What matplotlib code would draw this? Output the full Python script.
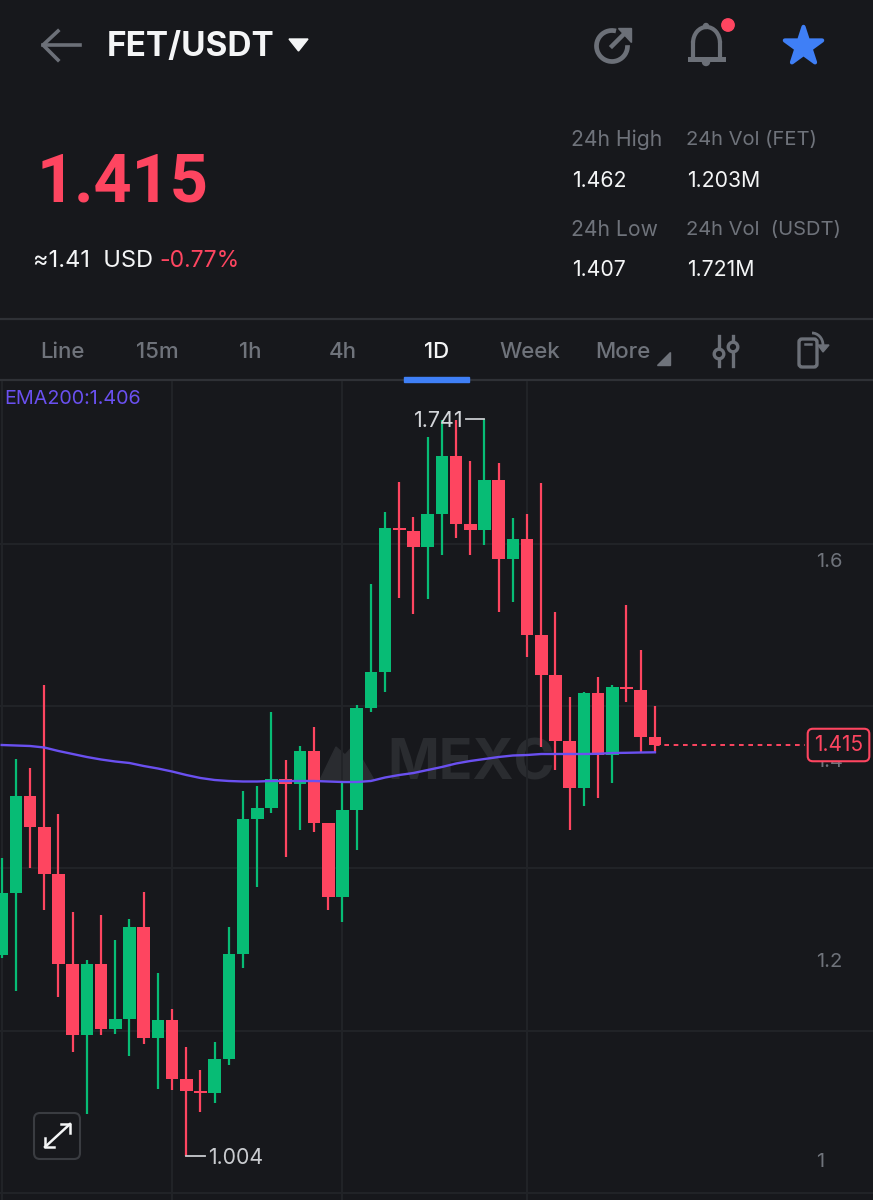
import numpy as np
import matplotlib
matplotlib.use("Agg")
import matplotlib.pyplot as plt
from matplotlib.patches import Arc, Circle, FancyBboxPatch, Polygon, Rectangle

plt.rcParams['font.family'] = ['Inter', 'DejaVu Sans']

# Daily candles
highs = [1.302, 1.401, 1.392, 1.475, 1.346, 1.248, 1.200, 1.245, 1.220, 1.241, 1.268, 1.187,
         1.151, 1.113, 1.090, 1.118, 1.233, 1.369, 1.374, 1.448, 1.400, 1.414, 1.433, 1.337,
         1.378, 1.455, 1.576, 1.648, 1.678, 1.643, 1.723, 1.740, 1.740, 1.699, 1.741, 1.697,
         1.642, 1.646, 1.677, 1.548, 1.463, 1.468, 1.483, 1.475, 1.555, 1.510, 1.454]
lows = [1.202, 1.169, 1.292, 1.250, 1.163, 1.108, 1.046, 1.125, 1.126, 1.104, 1.116, 1.071,
        1.070, 1.004, 1.048, 1.057, 1.095, 1.192, 1.273, 1.347, 1.303, 1.330, 1.328, 1.250,
        1.238, 1.310, 1.448, 1.468, 1.562, 1.546, 1.561, 1.605, 1.622, 1.605, 1.615, 1.548,
        1.558, 1.503, 1.413, 1.390, 1.330, 1.354, 1.362, 1.377, 1.458, 1.407, 1.407]
opens = [1.205, 1.267, 1.364, 1.333, 1.286, 1.196, 1.125, 1.196, 1.131, 1.141, 1.233, 1.122,
         1.140, 1.081, 1.069, 1.067, 1.101, 1.206, 1.341, 1.352, 1.381, 1.376, 1.409, 1.337,
         1.263, 1.350, 1.452, 1.488, 1.632, 1.629, 1.613, 1.646, 1.704, 1.636, 1.630, 1.680,
         1.601, 1.621, 1.525, 1.485, 1.419, 1.372, 1.467, 1.405, 1.473, 1.470, 1.423]
closes = [1.267, 1.364, 1.333, 1.286, 1.196, 1.125, 1.196, 1.131, 1.141, 1.233, 1.122, 1.140,
          1.081, 1.069, 1.067, 1.101, 1.206, 1.341, 1.352, 1.381, 1.376, 1.409, 1.337, 1.263,
          1.350, 1.452, 1.488, 1.632, 1.630, 1.613, 1.646, 1.704, 1.636, 1.630, 1.680, 1.601,
          1.621, 1.525, 1.485, 1.419, 1.372, 1.467, 1.405, 1.473, 1.471, 1.423, 1.415]
ema200 = [1.415, 1.4145, 1.414, 1.4125, 1.409, 1.406, 1.403, 1.4005, 1.3985, 1.397, 1.394, 1.3915,
          1.3885, 1.385, 1.382, 1.380, 1.379, 1.3785, 1.3785, 1.379, 1.379, 1.379, 1.379, 1.3785,
          1.378, 1.378, 1.379, 1.3825, 1.385, 1.387, 1.390, 1.393, 1.3965, 1.399, 1.401, 1.403,
          1.4045, 1.405, 1.406, 1.406, 1.406, 1.406, 1.4062, 1.407, 1.4072, 1.4075, 1.4077]

price_ticks = [1.0, 1.2, 1.4, 1.6]
grid_prices = [1.616, 1.454, 1.292, 1.129, 0.967]
grid_candles = [0, 12, 24, 37]
tab_names = ["Line", "15m", "1h", "4h", "1D", "Week", "More"]
tab_x = [62, 157, 250, 343, 437, 530, 623]

BG = "#17181c"
GRID = "#222428"
GREEN = "#07bc75"
RED = "#fe4560"
PURPLE = "#6a50f0"
GREY = "#6f737b"
ICON = "#6c7078"
WHITE = "#f4f5f6"
BLUE = "#3f7ff6"

fig = plt.figure(figsize=(8.73, 12), dpi=100, facecolor=BG)

# Page furniture lives in an axes measured in image pixels
ui = fig.add_axes([0, 0, 1, 1], zorder=0)
ui.set_xlim(0, 873)
ui.set_ylim(1200, 0)
ui.axis("off")

# Header row
ui.plot([43, 80], [45, 45], color=ICON, lw=2.6)
ui.plot([58, 43, 58], [31, 45, 60], color=ICON, lw=2.6)
ui.text(107, 47, "FET/USDT", color=WHITE, fontsize=24, fontweight="bold", va="center")
ui.add_patch(Polygon([[289, 39], [308, 39], [298.5, 51]], color=WHITE))

# Share icon
ui.add_patch(Arc((612, 46), 31, 31, theta1=-3, theta2=285, color=ICON, lw=3.4))
ui.plot([612, 624], [46, 34], color=ICON, lw=3.2)
ui.add_patch(Polygon([[618, 28], [631, 28], [631, 42]], color=ICON))

# Bell icon
ui.plot([693, 693], [58, 43], color=ICON, lw=3)
ui.plot([720, 720], [58, 43], color=ICON, lw=3)
ui.add_patch(Arc((706.5, 43), 27, 32, theta1=180, theta2=360, color=ICON, lw=3))
ui.plot([690, 723], [59, 59], color=ICON, lw=3.6)
ui.add_patch(Circle((706, 26), 2.5, color=ICON))
ui.add_patch(Circle((706, 62), 3.5, color=ICON))
ui.add_patch(Circle((728, 25), 6.2, color=RED))

star = ui.scatter([802.5], [46], marker="*", s=800, color=BLUE, edgecolors=BLUE, linewidths=3)
star.set_joinstyle("round")

# Price block
ui.text(37, 183, "1.415", color=RED, fontsize=48, fontweight="bold", va="center", family="Roboto")
ui.text(33, 261, "≈1.41  USD", color=WHITE, fontsize=17, va="center")
ui.text(159, 261, "-0.77%", color=RED, fontsize=16.5, va="center")
for x, y, s, size in [(571, 140, "24h High", 15.2), (686, 140, "24h Vol (FET)", 14.5),
                      (571, 230, "24h Low", 15.2), (686, 230, "24h Vol  (USDT)", 14.5)]:
    ui.text(x, y, s, color=GREY, fontsize=size, va="center")
for x, y, s in [(572, 181, "1.462"), (687, 181, "1.203M"),
                (572, 270, "1.407"), (687, 270, "1.721M")]:
    ui.text(x, y, s, color=WHITE, fontsize=15.3, va="center")

# Interval tabs
ui.plot([0, 873], [319, 319], color="#2f3136", lw=1.6)
ui.plot([0, 873], [380, 380], color="#2f3136", lw=1.6)
for x, name in zip(tab_x, tab_names):
    active = name == "1D"
    ui.text(x, 352, name, color=WHITE if active else GREY, fontsize=16, ha="center", va="center",
            fontweight="medium")
ui.add_patch(Rectangle((404, 377), 65, 4.5, color=BLUE, zorder=3))
ui.add_patch(Polygon([[657, 365], [670, 365], [670, 352]], color=GREY))

# Settings icon
for x, knob in [(719, 354), (733, 347)]:
    ui.plot([x, x], [336, 366], color=ICON, lw=2.4)
    ui.add_patch(Circle((x, knob), 4.8, facecolor=BG, edgecolor=ICON, lw=2.4, zorder=3))

# Rotate icon
ui.add_patch(FancyBboxPatch((799, 339), 18, 28, boxstyle="round,pad=0,rounding_size=3",
                            fill=False, edgecolor=ICON, lw=2.4))
ui.plot([805, 811], [344, 344], color=ICON, lw=1.8)
ui.add_patch(Arc((812, 345), 22, 24, theta1=270, theta2=360, color=ICON, lw=2))
ui.add_patch(Polygon([[818, 345], [829, 345], [823, 352]], color=ICON))

# Watermark sits under the candles
ui.add_patch(Polygon([[320, 780], [336, 747], [345, 755], [354, 745], [374, 780]], color="#2a2c30"))
ui.text(387, 764, "MEXC", color="#2a2c30", fontsize=40, fontweight="bold", va="center")

# Chart, scaled so the candles land where the picture has them
ax = fig.add_axes([0, 0, 1, 819 / 1200], zorder=1)
ax.patch.set_alpha(0)
ax.set_xlim(-0.118, 61.36)
ax.set_ylim(0.960, 1.779)
for spine in ax.spines.values():
    spine.set_visible(False)
ax.set_xticks([])
ax.yaxis.tick_right()
ax.set_yticks(price_ticks)
ax.set_yticklabels(["1", "1.2", "1.4", "1.6"])
ax.tick_params(axis="y", length=0, pad=-41, labelsize=14.5, labelcolor=GREY)

for y in grid_prices:
    ax.axhline(y, color=GRID, lw=1.4, zorder=0)
for x in grid_candles:
    ax.axvline(x, color=GRID, lw=1.4, zorder=0)

xs = np.arange(len(closes))
colors = [GREEN if c >= o else RED for o, c in zip(opens, closes)]
bottoms = [min(o, c) for o, c in zip(opens, closes)]
heights = [abs(c - o) for o, c in zip(opens, closes)]
ax.vlines(xs, lows, highs, colors=colors, lw=1.6, zorder=2)
ax.bar(xs, heights, width=0.88, bottom=bottoms, color=colors, zorder=3)
ax.plot(xs, ema200, color=PURPLE, lw=1.7, zorder=4)
ui.text(4, 399, "EMA200:1.406", color=PURPLE, fontsize=14.2, va="center", zorder=5)

# Extremes
low_i = int(np.argmin(lows))
high_i = int(np.argmax(highs))
ax.plot([low_i, low_i + 1.3], [lows[low_i]] * 2, color="#c9cbcf", lw=1.3, zorder=4)
ax.text(low_i + 1.5, lows[low_i], "1.004", color="#c9cbcf", fontsize=15.3, va="center_baseline")
ax.plot([high_i - 1.3, high_i], [highs[high_i]] * 2, color="#c9cbcf", lw=1.3, zorder=4)
ax.text(high_i - 1.5, highs[high_i], "1.741", color="#d4d6da", fontsize=15.5, va="center_baseline",
        ha="right", zorder=5)

# Last price tag
ax.plot([xs[-1], 56.6], [closes[-1]] * 2, color=RED, lw=1.4, ls=(0, (2.4, 2.4)), zorder=4)
ax.text(0.9605, closes[-1], "1.415", color=RED, fontsize=15, ha="center", va="center",
        transform=ax.get_yaxis_transform(), zorder=6,
        bbox=dict(boxstyle="round,pad=0.3,rounding_size=0.25", facecolor=BG, edgecolor=RED, lw=1.5))

# Expand button
top = fig.add_axes([0, 0, 1, 1], zorder=2)
top.set_xlim(0, 873)
top.set_ylim(1200, 0)
top.axis("off")
top.add_patch(FancyBboxPatch((34, 1113), 46, 46, boxstyle="round,pad=0,rounding_size=6",
                             fill=False, edgecolor="#3a3c41", lw=1.5))
top.plot([45, 70], [1147, 1124], color=WHITE, lw=1.8)
top.plot([61, 70, 70], [1124, 1124, 1133], color=WHITE, lw=1.8)
top.plot([45, 45, 54], [1138, 1147, 1147], color=WHITE, lw=1.8)

fig.savefig("out.png", dpi=100, facecolor=BG)
